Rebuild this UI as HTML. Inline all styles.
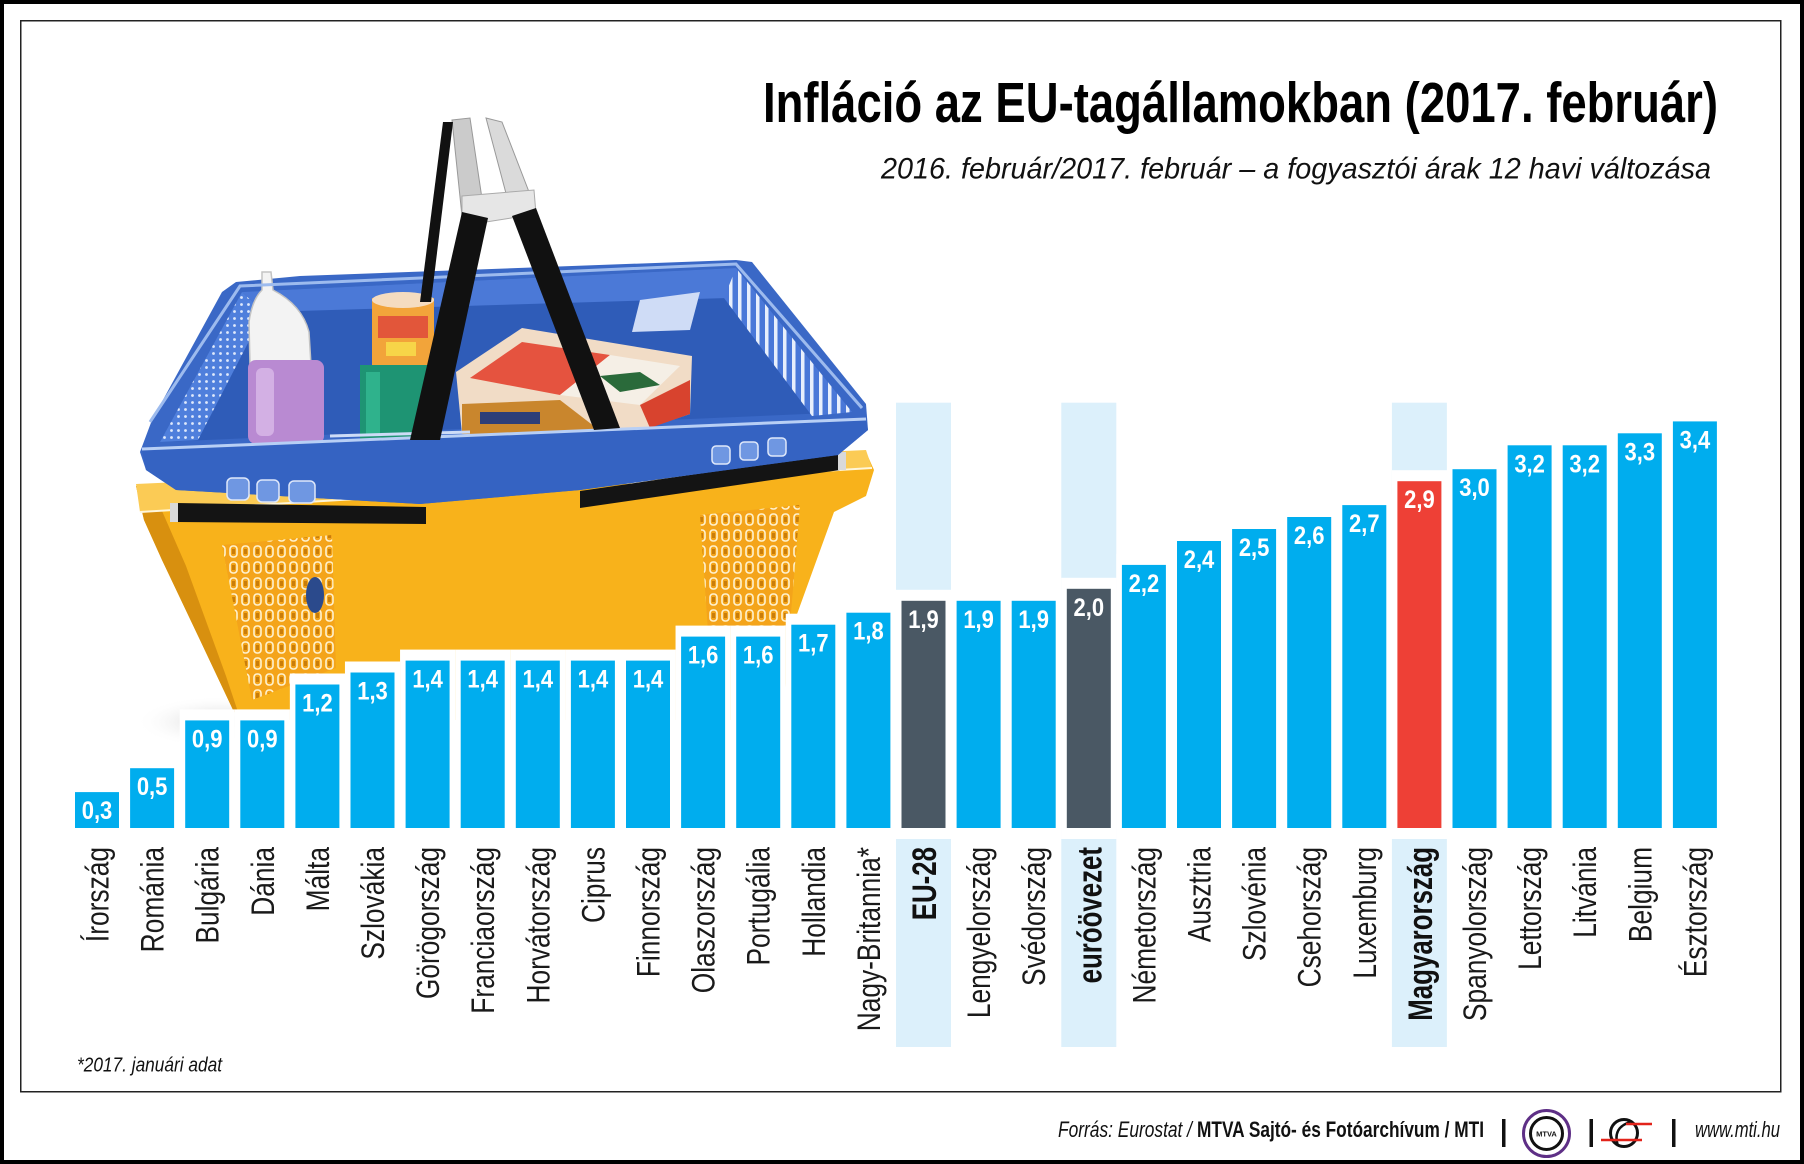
<!DOCTYPE html>
<html>
<head>
<meta charset="utf-8">
<style>
  html,body{margin:0;padding:0;background:#fff;}
  svg{display:block;}
  text{font-family:"Liberation Sans",Arial,sans-serif;}
  .lb{font-size:32.5px;fill:#1a1a1a;text-anchor:end;}
  .lbb{font-size:34px;font-weight:bold;fill:#111;text-anchor:end;}
  .vl{font-size:25px;font-weight:bold;fill:#fff;text-anchor:middle;}
  .bl{fill:#00adee;}
  .dk{fill:#4a5864;}
  .rd{fill:#ee4036;}
  .ko{fill:#fff;}
  .pn{fill:#dcf0fb;}
</style>
</head>
<body>
<svg width="1804" height="1164" viewBox="0 0 1804 1164" xmlns="http://www.w3.org/2000/svg">
<defs>
  <pattern id="mesh" width="7" height="7" patternUnits="userSpaceOnUse">
    <rect width="7" height="7" fill="#4f7fdc"/>
    <circle cx="3.5" cy="3.5" r="1.4" fill="#dfe9fb"/>
  </pattern>
  <pattern id="stripes" width="9" height="9" patternUnits="userSpaceOnUse">
    <rect width="9" height="9" fill="#4a78d8"/>
    <rect width="3.5" height="9" fill="#e8effc"/>
  </pattern>
  <pattern id="ypat" width="12" height="16" patternUnits="userSpaceOnUse">
    <rect width="12" height="16" fill="#f4a41a"/>
    <rect x="2" y="2" width="7" height="11" rx="3" fill="none" stroke="#fff3d0" stroke-width="1.6"/>
    <rect x="4" y="5" width="3" height="5" fill="#c97d0a"/>
  </pattern>
  <radialGradient id="sh" cx="50%" cy="50%" r="50%">
    <stop offset="0" stop-color="#cfcfcf"/>
    <stop offset="1" stop-color="#ffffff" stop-opacity="0"/>
  </radialGradient>
</defs>

<!-- frame -->
<rect x="2" y="2" width="1800" height="1160" fill="#fff" stroke="#000" stroke-width="4"/>
<rect x="20.75" y="20.75" width="1760" height="1071" fill="none" stroke="#222" stroke-width="1.5"/>

<!-- title -->
<text x="763" y="122" font-size="57" font-weight="bold" fill="#000" textLength="955" lengthAdjust="spacingAndGlyphs">Infláció az EU-tagállamokban (2017. február)</text>
<text x="881" y="178.5" font-size="30" font-style="italic" fill="#111" textLength="830" lengthAdjust="spacingAndGlyphs">2016. február/2017. február – a fogyasztói árak 12 havi változása</text>

<!-- basket -->
<g>
  <ellipse cx="220" cy="722" rx="85" ry="26" fill="url(#sh)"/>
  <!-- yellow body -->
  <polygon points="136,486 300,478 600,466 866,452 874,470 866,496 834,512 792,628 782,720 256,720 234,712 200,640 162,560 144,520" fill="#f8b21b"/>
  <polygon points="136,486 152,488 186,566 226,676 238,712 234,712 200,640 162,560 144,520" fill="#d8900f"/>
  <polygon points="136,484 866,450 872,468 140,512" fill="#fbcb55"/>
  <polyline points="140,512 872,468" stroke="#fff6da" stroke-width="2" fill="none"/>
  <polygon points="222,545 332,535 336,668 252,700" fill="url(#ypat)"/>
  <polygon points="700,515 800,505 790,625 708,632" fill="url(#ypat)"/>
  <ellipse cx="315" cy="595" rx="9" ry="18" fill="#2b4a8c"/>
  <!-- black front handles -->
  <polygon points="176,503 426,507 426,524 176,522" fill="#141414"/>
  <polygon points="580,491 840,453 840,470 580,508" fill="#141414"/>
  <rect x="170" y="503" width="8" height="19" fill="#d9d9d9"/>
  <rect x="838" y="452" width="8" height="18" fill="#d9d9d9"/>

  <!-- blue body -->
  <polygon points="140,452 152,420 222,292 236,282 300,276 736,260 752,262 866,404 868,430 838,455 580,490 420,504 176,490 146,470" fill="#3a68c6"/>
  <polygon points="160,442 242,292 736,268 852,412" fill="#2f5cb8"/>
  <polygon points="160,442 242,292 264,312 198,440" fill="url(#mesh)"/>
  <polygon points="242,292 736,268 728,298 264,312" fill="#4b79d7"/>
  <polygon points="736,268 852,412 812,416 724,298" fill="url(#stripes)"/>
  <polygon points="640,300 700,292 690,330 632,332" fill="#cfdcf6"/>

  <!-- bottle -->
  <path d="M250,365 L249,322 Q252,300 262,290 L262,272 L271,272 L273,290 Q302,305 309,332 L311,365 Z" fill="#f3f3f3" stroke="#c4c4c4" stroke-width="1.5"/>
  <rect x="248" y="360" width="76" height="84" rx="8" fill="#b98ad2"/>
  <rect x="256" y="368" width="18" height="68" rx="6" fill="#d3b0e4"/>
  <!-- can -->
  <rect x="372" y="298" width="62" height="70" fill="#f2a43a"/>
  <rect x="378" y="316" width="50" height="22" fill="#e2563a"/>
  <rect x="386" y="342" width="30" height="14" fill="#f7d548"/>
  <ellipse cx="403" cy="300" rx="31" ry="8" fill="#f5dcc0"/>
  <rect x="360" y="365" width="68" height="76" fill="#1e9473"/>
  <rect x="366" y="372" width="14" height="62" fill="#2fb28c"/>
  <!-- box -->
  <polygon points="456,372 522,328 692,356 690,414 612,440 462,434" fill="#f1dcc6"/>
  <polygon points="470,378 522,342 610,355 560,395" fill="#e5533f"/>
  <polygon points="560,395 610,355 680,366 640,405" fill="#f5efe6"/>
  <polygon points="600,376 640,372 660,385 620,392" fill="#2a6a3a"/>
  <polygon points="462,404 560,400 612,440 462,434" fill="#c9862d"/>
  <rect x="480" y="412" width="60" height="12" fill="#2d3e78"/>
  <polygon points="640,405 690,380 690,414 650,428" fill="#d8432e"/>

  <!-- blue front face -->
  <polygon points="142,450 866,420 868,430 838,455 580,490 420,504 176,490 146,470" fill="#3563c2"/>
  <polyline points="142,449 866,419" stroke="#b8cff5" stroke-width="3" fill="none"/>
  <polyline points="150,422 240,286 736,264 862,408" stroke="#9dbbee" stroke-width="3" fill="none"/>
  <rect x="227" y="478" width="22" height="22" rx="5" fill="#6f97e2" stroke="#dfe8fa" stroke-width="1.5"/>
  <rect x="257" y="480" width="22" height="22" rx="5" fill="#6f97e2" stroke="#dfe8fa" stroke-width="1.5"/>
  <rect x="289" y="481" width="26" height="22" rx="5" fill="#6f97e2" stroke="#dfe8fa" stroke-width="1.5"/>
  <rect x="712" y="446" width="18" height="18" rx="4" fill="#6f97e2" stroke="#dfe8fa" stroke-width="1.5"/>
  <rect x="740" y="442" width="18" height="18" rx="4" fill="#6f97e2" stroke="#dfe8fa" stroke-width="1.5"/>
  <rect x="768" y="438" width="18" height="18" rx="4" fill="#6f97e2" stroke="#dfe8fa" stroke-width="1.5"/>
  <polyline points="330,436 470,432" stroke="#cddcf7" stroke-width="3" fill="none"/>

  <!-- handles -->
  <polygon points="452,120 470,118 484,212 462,216" fill="#cbcbcb" stroke="#999" stroke-width="1"/>
  <polygon points="486,118 502,122 536,210 512,216" fill="#dadada" stroke="#999" stroke-width="1"/>
  <polygon points="462,196 534,190 536,214 486,222 462,218" fill="#e6e6e6" stroke="#aaa" stroke-width="1"/>
  <polygon points="443,122 453,122 431,302 420,302" fill="#111"/>
  <polygon points="462,212 488,218 440,440 410,440" fill="#111"/>
  <polygon points="512,216 536,208 620,428 594,430" fill="#111"/>
</g>

<!-- highlight panels -->
<rect class="pn" x="896" y="402.7" width="55" height="644.3"/>
<rect class="pn" x="1061.3" y="402.7" width="55" height="644.3"/>
<rect class="pn" x="1391.9" y="402.7" width="55" height="644.3"/>

<!-- knockouts -->
<rect class="ko" x="69.45" y="781.1" width="55.2" height="57.9"/>
<rect class="ko" x="124.55" y="757.2" width="55.2" height="81.8"/>
<rect class="ko" x="179.65" y="709.4" width="55.2" height="129.6"/>
<rect class="ko" x="234.75" y="709.4" width="55.2" height="129.6"/>
<rect class="ko" x="289.85" y="673.5" width="55.2" height="165.5"/>
<rect class="ko" x="344.95" y="661.5" width="55.2" height="177.5"/>
<rect class="ko" x="400.05" y="649.6" width="55.2" height="189.4"/>
<rect class="ko" x="455.15" y="649.6" width="55.2" height="189.4"/>
<rect class="ko" x="510.25" y="649.6" width="55.2" height="189.4"/>
<rect class="ko" x="565.35" y="649.6" width="55.2" height="189.4"/>
<rect class="ko" x="620.45" y="649.6" width="55.2" height="189.4"/>
<rect class="ko" x="675.55" y="625.6" width="55.2" height="213.4"/>
<rect class="ko" x="730.65" y="625.6" width="55.2" height="213.4"/>
<rect class="ko" x="785.75" y="613.7" width="55.2" height="225.3"/>
<rect class="ko" x="840.85" y="601.7" width="55.2" height="237.3"/>
<rect class="ko" x="895.95" y="589.8" width="55.2" height="249.2"/>
<rect class="ko" x="951.05" y="589.8" width="55.2" height="249.2"/>
<rect class="ko" x="1006.15" y="589.8" width="55.2" height="249.2"/>
<rect class="ko" x="1061.25" y="577.8" width="55.2" height="261.2"/>
<rect class="ko" x="1116.35" y="553.9" width="55.2" height="285.1"/>
<rect class="ko" x="1171.45" y="530.0" width="55.2" height="309.0"/>
<rect class="ko" x="1226.55" y="518.0" width="55.2" height="321.0"/>
<rect class="ko" x="1281.65" y="506.0" width="55.2" height="333.0"/>
<rect class="ko" x="1336.75" y="494.1" width="55.2" height="344.9"/>
<rect class="ko" x="1391.85" y="470.2" width="55.2" height="368.8"/>
<rect class="ko" x="1446.95" y="458.2" width="55.2" height="380.8"/>
<rect class="ko" x="1502.05" y="434.3" width="55.2" height="404.7"/>
<rect class="ko" x="1557.15" y="434.3" width="55.2" height="404.7"/>
<rect class="ko" x="1612.25" y="422.3" width="55.2" height="416.7"/>
<rect class="ko" x="1667.35" y="410.4" width="55.2" height="428.6"/>

<!-- bars -->
<rect class="bl" x="75.0" y="792.1" width="44" height="35.9"/>
<rect class="bl" x="130.1" y="768.2" width="44" height="59.8"/>
<rect class="bl" x="185.2" y="720.4" width="44" height="107.6"/>
<rect class="bl" x="240.3" y="720.4" width="44" height="107.6"/>
<rect class="bl" x="295.4" y="684.5" width="44" height="143.5"/>
<rect class="bl" x="350.5" y="672.5" width="44" height="155.5"/>
<rect class="bl" x="405.6" y="660.6" width="44" height="167.4"/>
<rect class="bl" x="460.7" y="660.6" width="44" height="167.4"/>
<rect class="bl" x="515.8" y="660.6" width="44" height="167.4"/>
<rect class="bl" x="570.9" y="660.6" width="44" height="167.4"/>
<rect class="bl" x="626.0" y="660.6" width="44" height="167.4"/>
<rect class="bl" x="681.1" y="636.6" width="44" height="191.4"/>
<rect class="bl" x="736.2" y="636.6" width="44" height="191.4"/>
<rect class="bl" x="791.3" y="624.7" width="44" height="203.3"/>
<rect class="bl" x="846.4" y="612.7" width="44" height="215.3"/>
<rect class="dk" x="901.5" y="600.8" width="44" height="227.2"/>
<rect class="bl" x="956.6" y="600.8" width="44" height="227.2"/>
<rect class="bl" x="1011.7" y="600.8" width="44" height="227.2"/>
<rect class="dk" x="1066.8" y="588.8" width="44" height="239.2"/>
<rect class="bl" x="1121.9" y="564.9" width="44" height="263.1"/>
<rect class="bl" x="1177.0" y="541.0" width="44" height="287.0"/>
<rect class="bl" x="1232.1" y="529.0" width="44" height="299.0"/>
<rect class="bl" x="1287.2" y="517.0" width="44" height="311.0"/>
<rect class="bl" x="1342.3" y="505.1" width="44" height="322.9"/>
<rect class="rd" x="1397.4" y="481.2" width="44" height="346.8"/>
<rect class="bl" x="1452.5" y="469.2" width="44" height="358.8"/>
<rect class="bl" x="1507.6" y="445.3" width="44" height="382.7"/>
<rect class="bl" x="1562.7" y="445.3" width="44" height="382.7"/>
<rect class="bl" x="1617.8" y="433.3" width="44" height="394.7"/>
<rect class="bl" x="1672.9" y="421.4" width="44" height="406.6"/>

<!-- value labels -->
<text class="vl" transform="translate(97.0 819.1) scale(.88 1)">0,3</text>
<text class="vl" transform="translate(152.1 795.2) scale(.88 1)">0,5</text>
<text class="vl" transform="translate(207.2 747.4) scale(.88 1)">0,9</text>
<text class="vl" transform="translate(262.3 747.4) scale(.88 1)">0,9</text>
<text class="vl" transform="translate(317.4 711.5) scale(.88 1)">1,2</text>
<text class="vl" transform="translate(372.5 699.5) scale(.88 1)">1,3</text>
<text class="vl" transform="translate(427.6 687.6) scale(.88 1)">1,4</text>
<text class="vl" transform="translate(482.7 687.6) scale(.88 1)">1,4</text>
<text class="vl" transform="translate(537.8 687.6) scale(.88 1)">1,4</text>
<text class="vl" transform="translate(592.9 687.6) scale(.88 1)">1,4</text>
<text class="vl" transform="translate(648.0 687.6) scale(.88 1)">1,4</text>
<text class="vl" transform="translate(703.1 663.6) scale(.88 1)">1,6</text>
<text class="vl" transform="translate(758.2 663.6) scale(.88 1)">1,6</text>
<text class="vl" transform="translate(813.3 651.7) scale(.88 1)">1,7</text>
<text class="vl" transform="translate(868.4 639.7) scale(.88 1)">1,8</text>
<text class="vl" transform="translate(923.5 627.8) scale(.88 1)">1,9</text>
<text class="vl" transform="translate(978.6 627.8) scale(.88 1)">1,9</text>
<text class="vl" transform="translate(1033.7 627.8) scale(.88 1)">1,9</text>
<text class="vl" transform="translate(1088.8 615.8) scale(.88 1)">2,0</text>
<text class="vl" transform="translate(1143.9 591.9) scale(.88 1)">2,2</text>
<text class="vl" transform="translate(1199.0 568.0) scale(.88 1)">2,4</text>
<text class="vl" transform="translate(1254.1 556.0) scale(.88 1)">2,5</text>
<text class="vl" transform="translate(1309.2 544.0) scale(.88 1)">2,6</text>
<text class="vl" transform="translate(1364.3 532.1) scale(.88 1)">2,7</text>
<text class="vl" transform="translate(1419.4 508.2) scale(.88 1)">2,9</text>
<text class="vl" transform="translate(1474.5 496.2) scale(.88 1)">3,0</text>
<text class="vl" transform="translate(1529.6 472.3) scale(.88 1)">3,2</text>
<text class="vl" transform="translate(1584.7 472.3) scale(.88 1)">3,2</text>
<text class="vl" transform="translate(1639.8 460.3) scale(.88 1)">3,3</text>
<text class="vl" transform="translate(1694.9 448.4) scale(.88 1)">3,4</text>

<!-- category labels -->
<text class="lb" transform="translate(108.5 847) rotate(-90) scale(.81 1)">Írország</text>
<text class="lb" transform="translate(163.6 847) rotate(-90) scale(.81 1)">Románia</text>
<text class="lb" transform="translate(218.7 847) rotate(-90) scale(.81 1)">Bulgária</text>
<text class="lb" transform="translate(273.8 847) rotate(-90) scale(.81 1)">Dánia</text>
<text class="lb" transform="translate(328.9 847) rotate(-90) scale(.81 1)">Málta</text>
<text class="lb" transform="translate(384.0 847) rotate(-90) scale(.81 1)">Szlovákia</text>
<text class="lb" transform="translate(439.1 847) rotate(-90) scale(.81 1)">Görögország</text>
<text class="lb" transform="translate(494.2 847) rotate(-90) scale(.81 1)">Franciaország</text>
<text class="lb" transform="translate(549.3 847) rotate(-90) scale(.81 1)">Horvátország</text>
<text class="lb" transform="translate(604.4 847) rotate(-90) scale(.81 1)">Ciprus</text>
<text class="lb" transform="translate(659.5 847) rotate(-90) scale(.81 1)">Finnország</text>
<text class="lb" transform="translate(714.6 847) rotate(-90) scale(.81 1)">Olaszország</text>
<text class="lb" transform="translate(769.7 847) rotate(-90) scale(.81 1)">Portugália</text>
<text class="lb" transform="translate(824.8 847) rotate(-90) scale(.81 1)">Hollandia</text>
<text class="lb" transform="translate(879.9 847) rotate(-90) scale(.81 1)">Nagy-Britannia*</text>
<text class="lbb" transform="translate(936.0 847) rotate(-90) scale(.76 1)">EU-28</text>
<text class="lb" transform="translate(990.1 847) rotate(-90) scale(.81 1)">Lengyelország</text>
<text class="lb" transform="translate(1045.2 847) rotate(-90) scale(.81 1)">Svédország</text>
<text class="lbb" transform="translate(1101.3 847) rotate(-90) scale(.76 1)">euróövezet</text>
<text class="lb" transform="translate(1155.4 847) rotate(-90) scale(.81 1)">Németország</text>
<text class="lb" transform="translate(1210.5 847) rotate(-90) scale(.81 1)">Ausztria</text>
<text class="lb" transform="translate(1265.6 847) rotate(-90) scale(.81 1)">Szlovénia</text>
<text class="lb" transform="translate(1320.7 847) rotate(-90) scale(.81 1)">Csehország</text>
<text class="lb" transform="translate(1375.8 847) rotate(-90) scale(.81 1)">Luxemburg</text>
<text class="lbb" transform="translate(1431.9 847) rotate(-90) scale(.76 1)">Magyarország</text>
<text class="lb" transform="translate(1486.0 847) rotate(-90) scale(.81 1)">Spanyolország</text>
<text class="lb" transform="translate(1541.1 847) rotate(-90) scale(.81 1)">Lettország</text>
<text class="lb" transform="translate(1596.2 847) rotate(-90) scale(.81 1)">Litvánia</text>
<text class="lb" transform="translate(1651.3 847) rotate(-90) scale(.81 1)">Belgium</text>
<text class="lb" transform="translate(1706.4 847) rotate(-90) scale(.81 1)">Észtország</text>

<!-- footnote -->
<text x="77" y="1071.5" font-size="20" font-style="italic" fill="#111" textLength="145" lengthAdjust="spacingAndGlyphs">*2017. januári adat</text>

<!-- footer -->
<text x="1058" y="1137" font-size="22" font-style="italic" fill="#111" textLength="134" lengthAdjust="spacingAndGlyphs">Forrás: Eurostat /</text>
<text x="1197" y="1137" font-size="22" font-weight="bold" fill="#111" textLength="287" lengthAdjust="spacingAndGlyphs">MTVA Sajtó- és Fotóarchívum / MTI</text>
<rect x="1502" y="1119" width="3.5" height="28" fill="#111"/>
<circle cx="1546.5" cy="1133.5" r="23" fill="none" stroke="#5e2f86" stroke-width="3"/>
<circle cx="1546.5" cy="1133.5" r="16" fill="#fff" stroke="#111" stroke-width="3"/>
<text x="1546.5" y="1136.5" font-size="7.5" font-weight="bold" text-anchor="middle" fill="#111">MTVA</text>
<rect x="1589.5" y="1119" width="3.5" height="28" fill="#111"/>
<circle cx="1624" cy="1133" r="13.5" fill="none" stroke="#111" stroke-width="3"/>
<path d="M1630,1122 Q1612,1128 1618,1146" fill="none" stroke="#111" stroke-width="2.5"/>
<line x1="1601" y1="1140" x2="1642" y2="1140" stroke="#e2231a" stroke-width="2.5"/>
<line x1="1626" y1="1124" x2="1652" y2="1124" stroke="#e2231a" stroke-width="2.5"/>
<rect x="1672" y="1119" width="3.5" height="28" fill="#111"/>
<text x="1695" y="1137" font-size="22" font-style="italic" fill="#111" textLength="85" lengthAdjust="spacingAndGlyphs">www.mti.hu</text>
</svg>
</body>
</html>
